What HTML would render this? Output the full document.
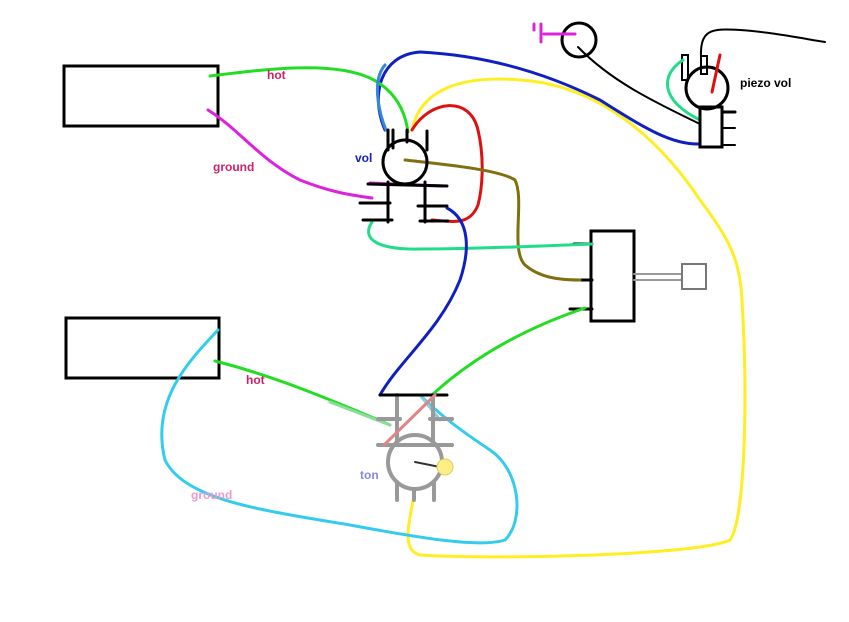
<!DOCTYPE html>
<html><head><style>body{margin:0;background:#fff}svg{display:block}text{font-family:"Liberation Sans",sans-serif;font-weight:bold;font-size:12px}</style></head><body>
<svg width="849" height="622" viewBox="0 0 849 622" xmlns="http://www.w3.org/2000/svg" fill="none" stroke-linecap="round">
<rect width="849" height="622" fill="#fff"/>
<!-- pickups -->
<rect x="64" y="66" width="154" height="60" stroke="#000" stroke-width="3"/>
<rect x="66" y="318" width="153" height="60" stroke="#000" stroke-width="3"/>
<!-- switch -->
<rect x="591" y="231" width="43" height="90" stroke="#000" stroke-width="3"/>
<line x1="574" y1="244" x2="592" y2="244" stroke="#000" stroke-width="3"/>
<line x1="574" y1="280" x2="592" y2="280" stroke="#000" stroke-width="3"/>
<line x1="570" y1="309" x2="592" y2="309" stroke="#000" stroke-width="3"/>
<line x1="634" y1="274" x2="682" y2="274" stroke="#999" stroke-width="2"/>
<line x1="634" y1="280" x2="682" y2="280" stroke="#999" stroke-width="2"/>
<rect x="682" y="264" width="24" height="25" stroke="#777" stroke-width="2"/>
<!-- yellow wire -->
<path d="M412,130 C420,90 460,75 520,80 C600,85 660,140 700,200 C730,240 740,260 742,300 C748,400 745,520 730,540 C700,555 500,560 420,555 C400,550 410,520 415,490" stroke="#ffee22" stroke-width="3"/>
<!-- blue wire top -->
<path d="M385,130 C370,95 380,55 420,52 C480,55 540,70 600,100 C640,125 670,145 700,144" stroke="#1020c0" stroke-width="3"/>
<!-- hot green top -->
<path d="M210,76 C260,70 330,60 370,78 C395,90 405,110 408,132" stroke="#22dd22" stroke-width="3"/>
<!-- light blue short -->
<path d="M386,130 C378,110 372,80 385,65" stroke="#3388dd" stroke-width="3"/>
<!-- red -->
<path d="M412,130 C430,100 470,95 478,130 C485,160 482,190 478,205 C470,225 455,222 432,220" stroke="#dd1111" stroke-width="3"/>
<!-- olive -->
<path d="M405,160 C450,165 500,170 515,180 C525,200 510,250 525,265 C540,278 560,280 580,280" stroke="#807010" stroke-width="3"/>
<!-- ground magenta -->
<path d="M208,110 C240,130 260,160 300,180 C330,192 350,195 372,198" stroke="#dd22dd" stroke-width="3"/>
<line x1="370" y1="183" x2="443" y2="186" stroke="#cc22cc" stroke-width="3"/>
<!-- teal-green from vol to switch -->
<path d="M372,222 C360,240 380,250 420,249 C480,249 540,246 592,244" stroke="#22dd88" stroke-width="3"/>
<!-- blue vol to tone -->
<path d="M447,208 C470,220 470,250 460,280 C440,330 400,360 380,395" stroke="#1020c0" stroke-width="3"/>
<!-- green tone to switch -->
<path d="M432,395 C470,360 520,330 585,308" stroke="#22dd22" stroke-width="3"/>
<!-- hot green lower -->
<path d="M215,361 C270,375 320,395 390,425" stroke="#22dd22" stroke-width="3"/>
<path d="M330,402 L390,425" stroke="#88dd99" stroke-width="3"/>
<!-- cyan ground -->
<path d="M218,330 C190,360 150,400 165,460 C185,500 260,510 350,525 C420,538 480,548 505,540 C525,520 520,470 490,450 C460,430 440,415 420,395" stroke="#33ccee" stroke-width="3"/>
<path d="M420,395 L440,420" stroke="#88ccdd" stroke-width="3"/>
<!-- vol pot -->
<g stroke="#000" stroke-width="3">
<circle cx="405" cy="162" r="22" fill="none"/>
<line x1="388" y1="130" x2="388" y2="150"/><line x1="393" y1="130" x2="393" y2="148"/>
<line x1="407" y1="130" x2="407" y2="142"/><line x1="427" y1="131" x2="427" y2="150"/>
<line x1="388" y1="182" x2="388" y2="222"/><line x1="425" y1="182" x2="425" y2="222"/>
<line x1="368" y1="184" x2="447" y2="186"/>
<line x1="360" y1="203" x2="390" y2="203"/><line x1="418" y1="206" x2="447" y2="206"/>
<line x1="363" y1="220" x2="392" y2="220"/><line x1="420" y1="221" x2="448" y2="221"/>
</g>
<!-- tone pot (gray) -->
<g stroke="#999" stroke-width="4">
<circle cx="415" cy="462" r="27" fill="none"/>
<line x1="397" y1="395" x2="397" y2="445"/><line x1="433" y1="395" x2="433" y2="445"/>
<line x1="378" y1="419" x2="400" y2="419"/><line x1="430" y1="419" x2="452" y2="419"/>
<line x1="378" y1="445" x2="452" y2="445"/>
<line x1="397" y1="482" x2="397" y2="500"/><line x1="414" y1="490" x2="414" y2="500"/>
<line x1="434" y1="482" x2="434" y2="500"/>
</g>
<line x1="380" y1="395" x2="447" y2="395" stroke="#000" stroke-width="3"/>
<line x1="384" y1="445" x2="435" y2="395" stroke="#dd8888" stroke-width="3"/>
<line x1="415" y1="462" x2="440" y2="467" stroke="#333" stroke-width="2"/>
<circle cx="445" cy="467" r="8" fill="#ffee88" stroke="#ddcc66"/>
<!-- jack + piezo -->
<circle cx="579" cy="40" r="17" stroke="#000" stroke-width="3"/>
<line x1="544" y1="34" x2="575" y2="34" stroke="#dd22dd" stroke-width="3"/>
<line x1="541" y1="24" x2="541" y2="42" stroke="#dd22dd" stroke-width="3"/>
<line x1="534" y1="24" x2="534" y2="30" stroke="#dd22dd" stroke-width="3"/>
<path d="M578,47 C610,80 650,100 700,124" stroke="#000" stroke-width="2"/>
<circle cx="707" cy="88" r="21" stroke="#000" stroke-width="3"/>
<rect x="682" y="55" width="6" height="25" stroke="#000" stroke-width="2"/>
<rect x="701" y="56" width="6" height="18" stroke="#000" stroke-width="2"/>
<path d="M701,58 C700,30 710,28 740,30 C770,32 800,38 825,42" stroke="#000" stroke-width="2"/>
<line x1="720" y1="55" x2="712" y2="92" stroke="#dd1111" stroke-width="3"/>
<path d="M683,60 C660,75 660,100 700,120" stroke="#22dd88" stroke-width="3"/>
<rect x="700" y="107" width="22" height="40" stroke="#000" stroke-width="3"/>
<line x1="722" y1="112" x2="735" y2="112" stroke="#000" stroke-width="3"/>
<line x1="722" y1="128" x2="735" y2="128" stroke="#000" stroke-width="2"/>
<line x1="722" y1="145" x2="735" y2="145" stroke="#000" stroke-width="2"/>
<!-- labels -->
<text x="267" y="79" fill="#cc2266">hot</text>
<text x="213" y="171" fill="#cc2266">ground</text>
<text x="355" y="162" fill="#1020c0">vol</text>
<text x="740" y="87" fill="#000">piezo vol</text>
<text x="246" y="384" fill="#cc2266">hot</text>
<text x="191" y="499" fill="#ee99cc">ground</text>
<text x="360" y="479" fill="#8888dd">ton</text>
</svg>
</body></html>
